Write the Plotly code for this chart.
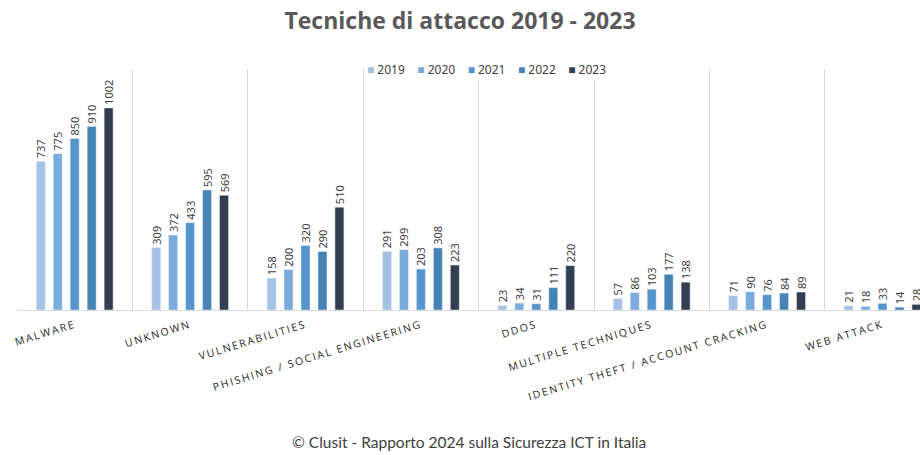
import plotly.graph_objects as go

categories = [
    "MALWARE",
    "UNKNOWN",
    "VULNERABILITIES",
    "PHISHING / SOCIAL ENGINEERING",
    "DDOS",
    "MULTIPLE TECHNIQUES",
    "IDENTITY THEFT / ACCOUNT CRACKING",
    "WEB ATTACK",
]
years = ["2019", "2020", "2021", "2022", "2023"]
values_2019 = [737, 309, 158, 291, 23, 57, 71, 21]
values_2020 = [775, 372, 200, 299, 34, 86, 90, 18]
values_2021 = [850, 433, 320, 203, 31, 103, 76, 33]
values_2022 = [910, 595, 290, 308, 111, 177, 84, 14]
values_2023 = [1002, 569, 510, 223, 220, 138, 89, 28]
colors = ["#A5C2E5", "#7BAADD", "#5694CC", "#4883B5", "#333F50"]

list_values = [values_2019, values_2020, values_2021, values_2022, values_2023]

fig = go.Figure()
for year, vals, color in zip(years, list_values, colors):
    fig.add_trace(
        go.Bar(
            x=categories,
            y=vals,
            name=year,
            marker=dict(color=color),
            text=[str(v) for v in vals],
            textposition="outside",
            textangle=-90,
            constraintext="none",
            textfont=dict(family="Noto Sans", size=11, color="#404040"),
            showlegend=False,
        )
    )

# legend drawn as one annotation (square swatches + year)
legend_parts = []
for year, color in zip(years, colors):
    legend_parts.append(
        f"<span style='color:{color};font-size:12px'>■</span> {year}"
    )
legend_text = "    ".join(legend_parts)

fig.update_layout(
    width=920,
    height=455,
    margin=dict(l=17, r=0, t=69, b=145, autoexpand=False),
    paper_bgcolor="white",
    plot_bgcolor="white",
    barmode="group",
    bargap=0.265,
    bargroupgap=0.47,
    showlegend=False,
    title=dict(
        text="Tecniche di attacco 2019 - 2023",
        x=0.5,
        xanchor="center",
        y=0.955,
        yanchor="middle",
        font=dict(family="Open Sans", size=23, color="#595959", weight="bold"),
    ),
    xaxis=dict(
        type="category",
        range=[-0.5, 7.325],
        tickson="boundaries",
        showgrid=True,
        gridcolor="#D9D9D9",
        gridwidth=1,
        showline=True,
        linecolor="#D9D9D9",
        linewidth=1,
        ticks="",
        tickangle=-17,
        tickfont=dict(family="Open Sans", size=10.5, color="#262626"),
        ticklabelstandoff=4,
        automargin=False,
    ),
    yaxis=dict(
        range=[0, 1195],
        showgrid=False,
        zeroline=False,
        showticklabels=False,
        automargin=False,
    ),
    annotations=[
        dict(
            text=legend_text,
            xref="paper",
            yref="paper",
            x=0.52,
            y=1.0,
            xanchor="center",
            yanchor="middle",
            showarrow=False,
            bgcolor="white",
            font=dict(family="Noto Sans", size=12, color="#404040"),
        ),
        dict(
            text="© Clusit - Rapporto 2024 sulla Sicurezza ICT in Italia",
            xref="paper",
            yref="paper",
            x=0.5,
            y=-0.548,
            xanchor="center",
            yanchor="middle",
            showarrow=False,
            font=dict(family="Lato", size=15.5, color="#404040"),
        ),
    ],
)

post = (
    "document.body.style.margin='0';"
    "var s=document.createElement('style');"
    "s.innerHTML='.xtick text{letter-spacing:1.8px}';"
    "document.head.appendChild(s);"
)
fig.write_html("out.html", post_script=post, config={"displayModeBar": False})
